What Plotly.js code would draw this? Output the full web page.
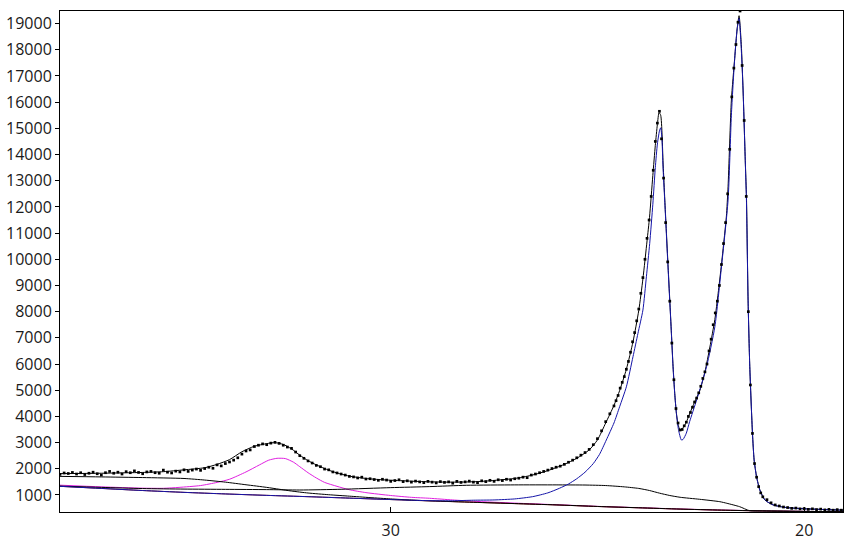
<!DOCTYPE html>
<html>
<head>
<meta charset="utf-8">
<script src="https://cdn.plot.ly/plotly-3.0.1.min.js"></script>
<style>html,body{margin:0;padding:0;background:#fff;}#chart{width:853px;height:540px;}</style>
</head>
<body>
<div id="chart"></div>
<script>
// Observed intensities (dots), three sampling segments
const obsSeg1Start = 38.0, obsSeg1Step = 0.1;   // 38.0 .. 24.7
const obsSeg1Y = [
 1790,1840,1820,1860,1800,1850,1780,1830,1870,1810,
 1760,1850,1900,1830,1870,1800,1890,1850,1920,1860,
 1810,1880,1900,1850,1830,1950,1870,1840,1910,1880,
 1960,1900,1950,1990,1940,2010,2060,2020,2150,2110,
 2200,2260,2330,2420,2560,2680,2720,2850,2900,2950,
 2920,2980,3010,2970,2900,2830,2780,2640,2500,2400,
 2300,2220,2130,2080,1990,1960,1880,1840,1800,1760,
 1710,1690,1650,1680,1610,1620,1590,1560,1600,1570,
 1520,1550,1580,1510,1540,1490,1530,1500,1470,1520,
 1490,1460,1510,1480,1500,1450,1520,1480,1500,1530,
 1490,1470,1540,1510,1560,1520,1580,1550,1600,1570,
 1620,1640,1680,1660,1760,1800,1850,1900,1950,2010,
 2060,2100,2170,2250,2330,2420,2520,2620,2740,2920,
 3150,3450,3800,4100];
const obsSeg2Start = 24.6, obsSeg2Step = 0.05;  // 24.60 .. 21.00
const obsSeg2Y = [
 4400,4600,4800,5080,5300,5520,5800,6100,6450,6850,
 7200,7650,8100,8700,9300,10000,10800,11500,12400,13400,
 14500,15200,15650,14600,13100,11400,9900,8400,6800,5400,
 4300,3750,3480,3500,3640,3780,4000,4150,4350,4550,
 4700,4900,5150,5450,5700,6000,6500,6950,7500,7950,
 8400,9000,9800,10600,11400,12500,14200,16200,17300,18200,
 19050,19480,17400,15300,12400,8000,5200,3350,2200,1680,
 1320,1080,930];
const obsSeg3Start = 20.9, obsSeg3Step = 0.1;   // 20.9 .. 19.1
const obsSeg3Y = [820,700,620,580,540,520,490,500,470,480,450,470,440,460,430,450,420,440,420];

// Total fit (black line)
const fitX = [38.0,37.0,36.0,35.5,35.0,34.5,34.2,33.9,33.6,33.3,33.0,32.8,32.6,32.4,32.2,32.0,31.8,31.6,31.4,31.2,31.0,30.6,30.2,29.8,29.4,29.0,28.6,28.2,27.8,27.4,27.0,26.6,26.2,25.8,25.5,25.2,25.0,24.8,24.6,24.46,24.3,24.14,24.0,23.9,23.8,23.74,23.66,23.6,23.55,23.51,23.47,23.41,23.37,23.29,23.25,23.21,23.17,23.13,23.09,23.05,23.0,22.93,22.85,22.77,22.65,22.52,22.4,22.28,22.16,22.08,22.0,21.92,21.88,21.84,21.76,21.68,21.62,21.574,21.52,21.477,21.419,21.395,21.356,21.315,21.25,21.21,21.15,21.07,20.95,20.75,20.43,19.94,19.06];
const fitY = [1815,1830,1860,1890,1960,2040,2170,2350,2650,2860,2960,3000,2930,2760,2520,2310,2150,2010,1890,1800,1720,1630,1580,1550,1520,1500,1490,1495,1520,1570,1630,1750,1930,2170,2400,2720,3100,3750,4420,5000,5800,6850,8050,9250,10700,11600,13200,14350,15150,15600,15500,13600,12260,9700,8440,7170,5900,4880,4120,3700,3480,3560,3780,4100,4550,5000,5700,6650,7700,8700,9800,11000,11650,12770,16080,17670,18800,19300,18200,16460,13530,12390,8440,5900,3360,2340,1700,1190,810,620,520,470,420];

// Crystalline peaks + background (blue)
const peaksX = [38.0,37,36,35,34,33,32,31,30,29.5,29,28.5,28,27.5,27,26.57,26.2,25.92,25.7,25.5,25.3,25.1,24.95,24.785,24.6,24.463,24.3,24.14,24.02,23.9,23.816,23.736,23.66,23.6,23.55,23.5,23.47,23.44,23.414,23.373,23.293,23.252,23.211,23.172,23.131,23.09,23.04,22.97,22.93,22.85,22.77,22.6,22.36,22.16,22.0,21.84,21.76,21.68,21.62,21.574,21.52,21.477,21.42,21.395,21.356,21.315,21.25,21.21,21.153,21.073,20.95,20.75,20.43,19.94,19.06];
const peaksY = [1330,1250,1170,1100,1040,985,935,880,825,800,780,780,800,810,850,935,1080,1255,1420,1620,1870,2200,2550,3100,3750,4370,5130,6280,7170,8060,9330,10600,12100,13500,14400,14900,15020,14600,13530,12260,9710,8440,7170,5900,4880,4120,3500,3100,3120,3360,3800,4630,5900,7420,9710,12260,15500,17670,18800,19200,18000,16460,13530,12200,8440,5900,3360,2340,1700,1190,810,620,520,470,420];

// Amorphous hump + background (magenta)
const humpX = [38.0,37.0,36.0,35.5,35.12,34.6,34.2,33.9,33.5,33.18,32.95,32.75,32.55,32.35,32.2,32.0,31.8,31.6,31.3,31.0,30.6,30.0,29.5,29.06,28.5,28.0,27.0,26.0,25.0,24.0,23.0,22.0,21.0,20.0,19.06];
const humpY = [1375,1310,1260,1255,1290,1360,1480,1600,1880,2145,2330,2400,2390,2250,2080,1850,1650,1480,1330,1200,1090,980,910,874,810,760,690,628,565,514,464,424,394,374,358];

// Broad component A + background (black, descending)
const broadAX = [38,37,36,35,34.5,34,33.5,33,32.7,32.4,32,31.5,31,30.5,30,29.5,29,28,27,26,25,24,23,22,21,20,19.06];
const broadAY = [1710,1690,1665,1630,1570,1490,1390,1290,1220,1150,1075,1010,955,900,850,805,775,722,672,622,562,512,462,422,392,372,357];

// Broad component B + background (black, flat)
const broadBX = [38,37,36,35,34,33,32.2,31.2,30,29.06,28.17,27,26,25.3,24.8,24.35,24.0,23.74,23.5,23.25,23.0,22.53,22.04,21.87,21.56,21.32,21.0,20,19.06];
const broadBY = [1340,1290,1245,1225,1215,1205,1190,1218,1280,1320,1370,1385,1385,1380,1360,1310,1250,1170,1070,980,912,836,744,683,553,400,390,372,356];

// Background (dark red)
const bgX = [38,37,36,35,34,33,32,31,30,29,28,27,26,25,24,23,22,21,20,19.06];
const bgY = [1330,1250,1170,1100,1040,985,935,880,825,770,720,670,620,560,510,460,420,390,370,355];

function seg(start, step, n){ const a=[]; for(let i=0;i<n;i++) a.push(Math.round((start-i*step)*1000)/1000); return a; }
const obsX = seg(obsSeg1Start,obsSeg1Step,obsSeg1Y.length)
  .concat(seg(obsSeg2Start,obsSeg2Step,obsSeg2Y.length))
  .concat(seg(obsSeg3Start,obsSeg3Step,obsSeg3Y.length));
const obsY = obsSeg1Y.concat(obsSeg2Y, obsSeg3Y);

const ln = (x,y,c)=>({x:x,y:y,type:'scatter',mode:'lines',line:{color:c,width:1,shape:'spline',smoothing:0.6},hoverinfo:'skip'});
const data = [
  ln(humpX,humpY,'#e020e0'),
  ln(bgX,bgY,'#7a0000'),
  ln(broadAX,broadAY,'#000000'),
  ln(broadBX,broadBY,'#000000'),
  ln(fitX,fitY,'#000000'),
  ln(peaksX,peaksY,'#1414a8'),
  {x:obsX,y:obsY,type:'scatter',mode:'markers',marker:{symbol:'square',size:2.7,color:'#000'},hoverinfo:'skip'}
];
const font = {family:'"Open Sans", "Noto Sans", sans-serif', size:16, color:'#1a1a1a'};
const layout = {
  width:853, height:540,
  margin:{l:60,r:10,t:11,b:28,pad:0},
  paper_bgcolor:'#fff', plot_bgcolor:'#fff',
  showlegend:false,
  font:font,
  xaxis:{range:[38.0,19.06], tickvals:[30,20], ticks:'inside', ticklen:5, tickcolor:'#000',
         ticklabelstandoff:4,
         showline:true, mirror:true, linecolor:'#000', linewidth:1, showgrid:false, zeroline:false, tickfont:font},
  yaxis:{range:[350,19480], dtick:1000, tick0:0, tickformat:'d', ticks:'outside', ticklen:4, tickcolor:'#000',
         showline:true, mirror:true, linecolor:'#000', linewidth:1, showgrid:false, zeroline:false, tickfont:font}
};
Plotly.newPlot('chart', data, layout, {displayModeBar:false, staticPlot:true});
</script>
</body>
</html>
